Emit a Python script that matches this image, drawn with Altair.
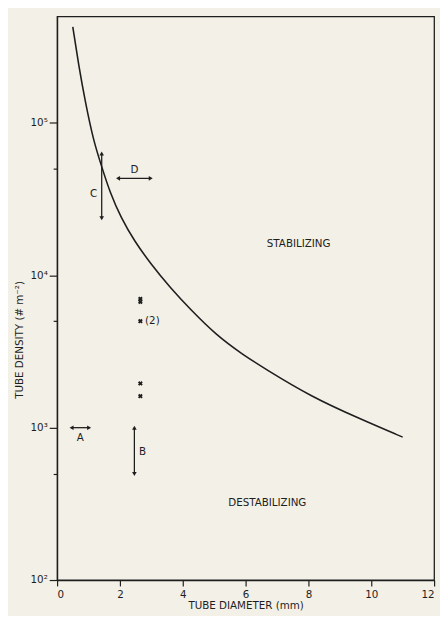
import altair as alt
import pandas as pd

# boundary curve (tube diameter mm, tube density # m^-2)
curve_x = [0.50, 0.69, 0.896, 1.156, 1.417, 1.68, 2.04, 2.46, 2.98, 3.60, 4.23, 5.06, 5.90, 6.625, 8.08, 9.65, 11.0]
curve_y = [427000, 237000, 138000, 76700, 51900, 35100, 23700, 16800, 11900, 8300, 6010, 4060, 3030, 2430, 1600, 1140, 867]

# observed points (x markers)
obs_x = [2.65, 2.65, 2.65, 2.65, 2.65]
obs_y = [7000, 6700, 5000, 1950, 1610]

# double-headed range arrows
arrow_name = ["A", "B", "C", "D"]
arrow_x1 = [0.46, 2.46, 1.42, 1.94]
arrow_x2 = [1.02, 2.46, 1.42, 2.98]
arrow_y1 = [1000, 1000, 63000, 43300]
arrow_y2 = [1000, 497, 23700, 43300]

# text annotations
label_text = ["A", "B", "C", "D", "STABILIZING", "DESTABILIZING", "(2)"]
label_x = [0.74, 2.72, 1.16, 2.46, 7.69, 6.69, 2.80]
label_y = [860, 697, 34200, 49400, 16100, 318, 5000]

x_ticks = list(range(0, 13))
y_ticks = [100, 500, 1000, 5000, 10000, 50000, 100000]

INK = "#1e1e1e"
BG = "#f3f0e7"
FONT = "DejaVu Sans"

xs = alt.Scale(domain=[0, 12], nice=False, zero=False)
ys = alt.Scale(type="log", domain=[100, 500000], nice=False)

x_axis = alt.Axis(
    values=x_ticks,
    labelExpr="datum.value % 2 === 0 ? datum.label : ''",
    tickSize={"condition": {"test": "datum.value % 2 === 0", "value": 6}, "value": 4},
    labelPadding=4,
    grid=False,
    title="TUBE DIAMETER (mm)",
    titleY=26,
    titleBaseline="middle",
)
y_axis = alt.Axis(
    values=y_ticks,
    labelExpr="datum.value === 100 ? '10²' : datum.value === 1000 ? '10³' : datum.value === 10000 ? '10⁴' : datum.value === 100000 ? '10⁵' : ''",
    tickSize={"condition": {"test": "indexof([100, 1000, 10000, 100000], datum.value) >= 0", "value": 8}, "value": 4},
    labelPadding=2,
    grid=False,
    title="TUBE DENSITY (# m⁻²)",
    titleX=-38,
    titleY=329,
    titleAngle=270,
    titleAlign="center",
    titleBaseline="middle",
)

curve_df = pd.DataFrame({"x": curve_x, "y": curve_y})
obs_df = pd.DataFrame({"x": obs_x, "y": obs_y})
arr_df = pd.DataFrame({"name": arrow_name, "x1": arrow_x1, "x2": arrow_x2,
                       "y1": arrow_y1, "y2": arrow_y2})
heads = []
for n, a, b, c, d in zip(arrow_name, arrow_x1, arrow_x2, arrow_y1, arrow_y2):
    if c == d:
        heads.append({"x": a, "y": c, "shape": "triangle-left"})
        heads.append({"x": b, "y": d, "shape": "triangle-right"})
    else:
        heads.append({"x": a, "y": c, "shape": "triangle-up"})
        heads.append({"x": b, "y": d, "shape": "triangle-down"})
head_df = pd.DataFrame(heads)
lab_df = pd.DataFrame({"t": label_text, "x": label_x, "y": label_y})

curve = alt.Chart(curve_df).mark_line(color=INK, strokeWidth=1.6, interpolate="basis").encode(
    x=alt.X("x:Q", scale=xs, axis=x_axis),
    y=alt.Y("y:Q", scale=ys, axis=y_axis),
)
obs = alt.Chart(obs_df).mark_point(shape="cross", angle=45, filled=True, color=INK, size=24, opacity=1).encode(
    x=alt.X("x:Q", scale=xs), y=alt.Y("y:Q", scale=ys)
)
arrows = alt.Chart(arr_df).mark_rule(color=INK, strokeWidth=1.3).encode(
    x=alt.X("x1:Q", scale=xs), x2="x2:Q",
    y=alt.Y("y1:Q", scale=ys), y2="y2:Q",
)
arrowheads = alt.Chart(head_df).mark_point(filled=True, color=INK, size=22, opacity=1).encode(
    x=alt.X("x:Q", scale=xs), y=alt.Y("y:Q", scale=ys),
    shape=alt.Shape("shape:N", scale=None),
)
labels = alt.Chart(lab_df).mark_text(color=INK, fontSize=10.5, font=FONT, align="center", baseline="middle").encode(
    x=alt.X("x:Q", scale=xs), y=alt.Y("y:Q", scale=ys), text="t:N",
).transform_filter("datum.t !== '(2)'")
lab2 = alt.Chart(lab_df).mark_text(color=INK, fontSize=10.5, font=FONT, align="left", baseline="middle").encode(
    x=alt.X("x:Q", scale=xs), y=alt.Y("y:Q", scale=ys), text="t:N",
).transform_filter("datum.t === '(2)'")

chart = alt.layer(curve, arrows, arrowheads, obs, labels, lab2).properties(
    width=384, height=574,
    background=BG,
    padding={"left": 50, "top": 3, "right": 6, "bottom": 31},
    autosize=alt.AutoSizeParams(type="none"),
).configure_view(
    stroke=INK, strokeWidth=1.3
).configure_axis(
    domainColor=INK, tickColor=INK, labelColor=INK, titleColor=INK,
    domainWidth=1.3, tickWidth=1.2,
    labelFont=FONT, titleFont=FONT,
    labelFontSize=10.5, titleFontSize=10.5, titleFontWeight="normal",
)

chart.save("out.html", embed_options={"renderer": "svg", "actions": False})
